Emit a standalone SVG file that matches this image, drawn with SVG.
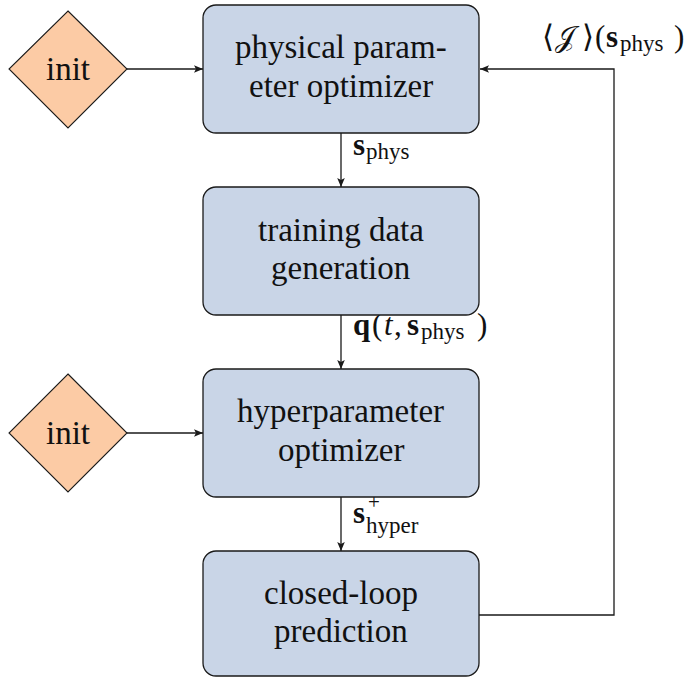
<svg xmlns="http://www.w3.org/2000/svg" width="686" height="677" viewBox="0 0 686 677">
<rect width="686" height="677" fill="#ffffff"/>
<defs>
<marker id="ah" markerUnits="userSpaceOnUse" markerWidth="10" markerHeight="10" viewBox="0 -5 10 10" refX="9" refY="0" orient="auto">
<path d="M0,-3.8 L9,0 L0,3.8 L2,0 z" fill="#1a1a1a"/>
</marker>
</defs>
<g id="connectors" fill="none" stroke="#1a1a1a" stroke-width="1.3">
<line x1="127" y1="69" x2="203" y2="69" marker-end="url(#ah)"/>
<line x1="127" y1="433" x2="203" y2="433" marker-end="url(#ah)"/>
<line x1="341" y1="133" x2="341" y2="187" marker-end="url(#ah)"/>
<line x1="341" y1="315" x2="341" y2="369" marker-end="url(#ah)"/>
<line x1="341" y1="497" x2="341" y2="551" marker-end="url(#ah)"/>
<polyline points="479,615 614,615 614,69 480,69" marker-end="url(#ah)"/>
</g>
<g id="labels" fill="#111111">
<text x="353" y="155" font-family="Liberation Serif" font-size="31" font-weight="bold">s</text>
<text x="366" y="159" font-family="Liberation Serif" font-size="23">phys</text>
<text x="353" y="335" font-family="Liberation Serif" font-size="31" font-weight="bold">q</text>
<text x="372" y="335" font-family="Liberation Serif" font-size="31">(</text>
<text x="384" y="335" font-family="Liberation Serif" font-size="31" font-style="italic">t</text>
<text x="394" y="335" font-family="Liberation Serif" font-size="31">,</text>
<text x="407" y="335" font-family="Liberation Serif" font-size="31" font-weight="bold">s</text>
<text x="421" y="339" font-family="Liberation Serif" font-size="23">phys</text>
<text x="477" y="335" font-family="Liberation Serif" font-size="31">)</text>
<text x="353" y="523" font-family="Liberation Serif" font-size="31" font-weight="bold">s</text>
<text x="368" y="509" font-family="Liberation Serif" font-size="21">+</text>
<text x="366" y="533" font-family="Liberation Serif" font-size="23">hyper</text>
<text x="542" y="47" font-family="Liberation Serif" font-size="31">⟨</text>
<text x="555" y="47" font-family="DejaVu Sans" font-size="29">𝒥</text>
<text x="582" y="47" font-family="Liberation Serif" font-size="31">⟩</text>
<text x="595" y="47" font-family="Liberation Serif" font-size="31">(</text>
<text x="606" y="47" font-family="Liberation Serif" font-size="31" font-weight="bold">s</text>
<text x="620" y="51" font-family="Liberation Serif" font-size="23">phys</text>
<text x="674" y="47" font-family="Liberation Serif" font-size="31">)</text>
</g>
<g id="init1">
<polygon points="68,11 127,69 68,128 9,69" fill="#fccba5" stroke="#1a1a1a" stroke-width="1.1"/>
<text x="46" y="80" font-family="Liberation Serif" font-size="33" fill="#111111">init</text>
</g>
<g id="init2">
<polygon points="68,374 127,433 68,492 9,433" fill="#fccba5" stroke="#1a1a1a" stroke-width="1.1"/>
<text x="46" y="444" font-family="Liberation Serif" font-size="33" fill="#111111">init</text>
</g>
<g id="physical-parameter-optimizer">
<rect x="203" y="5" width="276" height="128" rx="13" fill="#c9d5e7" stroke="#1a1a1a" stroke-width="1.3"/>
<text x="235" y="58" font-family="Liberation Serif" font-size="33" fill="#111111">physical param-</text>
<text x="249" y="97" font-family="Liberation Serif" font-size="33" fill="#111111">eter optimizer</text>
</g>
<g id="training-data-generation">
<rect x="203" y="187" width="276" height="128" rx="13" fill="#c9d5e7" stroke="#1a1a1a" stroke-width="1.3"/>
<text x="258" y="241" font-family="Liberation Serif" font-size="33" fill="#111111">training data</text>
<text x="271" y="279" font-family="Liberation Serif" font-size="33" fill="#111111">generation</text>
</g>
<g id="hyperparameter-optimizer">
<rect x="203" y="369" width="276" height="128" rx="13" fill="#c9d5e7" stroke="#1a1a1a" stroke-width="1.3"/>
<text x="237" y="422" font-family="Liberation Serif" font-size="33" fill="#111111">hyperparameter</text>
<text x="278" y="461" font-family="Liberation Serif" font-size="33" fill="#111111">optimizer</text>
</g>
<g id="closed-loop-prediction">
<rect x="203" y="551" width="276" height="125" rx="13" fill="#c9d5e7" stroke="#1a1a1a" stroke-width="1.3"/>
<text x="264" y="604" font-family="Liberation Serif" font-size="33" fill="#111111">closed-loop</text>
<text x="274" y="642" font-family="Liberation Serif" font-size="33" fill="#111111">prediction</text>
</g>
</svg>
